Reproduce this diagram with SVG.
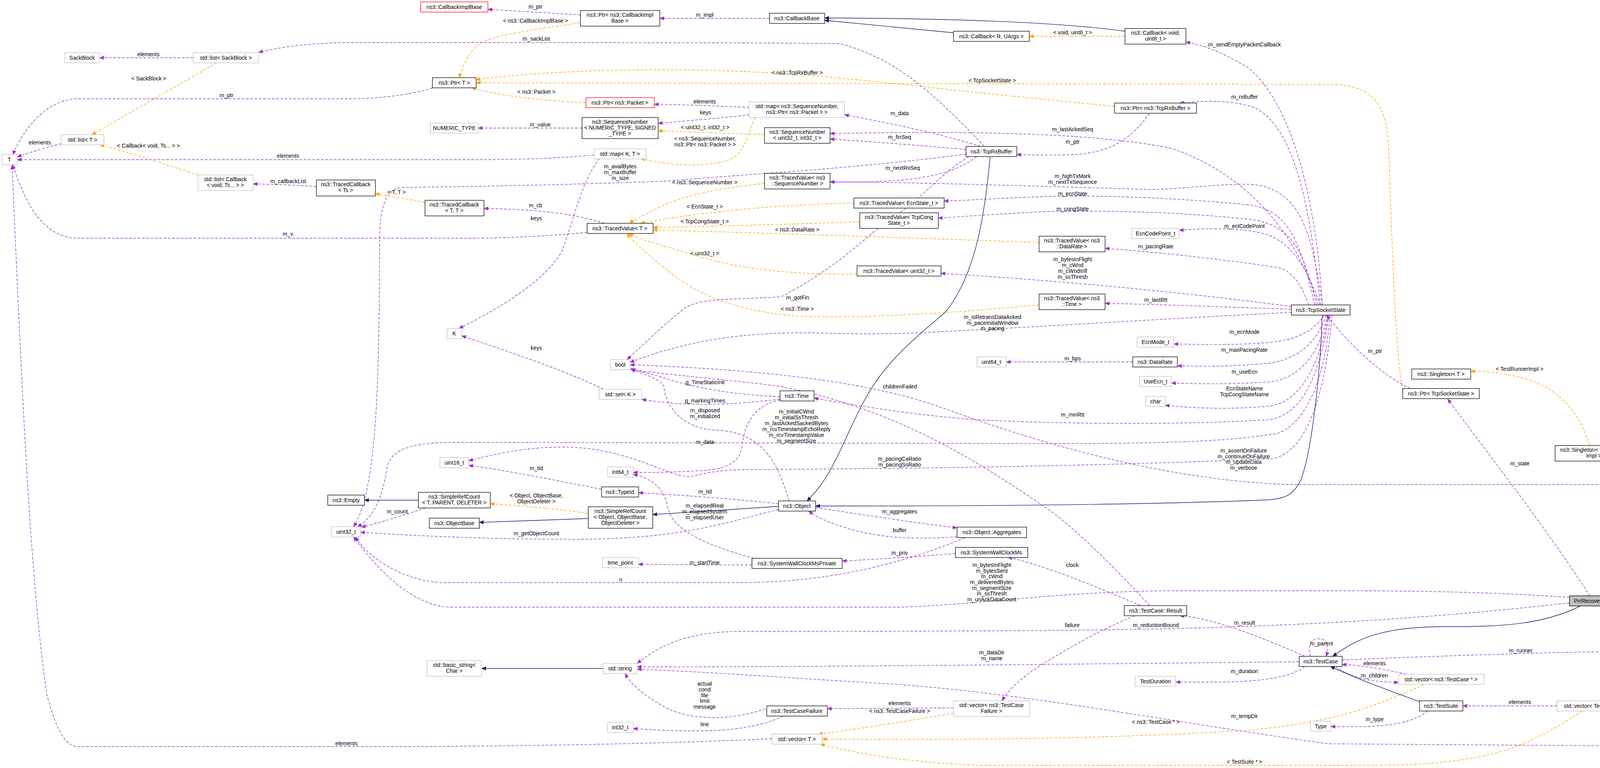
<svg xmlns="http://www.w3.org/2000/svg" width="4461" height="1967" viewBox="0 0 4461 1967">
<style>
text{font-family:"Liberation Sans",Arial,sans-serif;font-size:14px;fill:#000;text-anchor:middle}
.nb rect{fill:#fff;stroke:#000;stroke-width:1.3}
.ng rect{fill:#fff;stroke:#bfbfbf;stroke-width:1.3}
.nr rect{fill:#fff;stroke:#ff0000;stroke-width:1.3}
.nh rect{fill:#bfbfbf;stroke:#000;stroke-width:1.3}
.p{fill:none;stroke:#9a32cd;stroke-width:1.4;stroke-dasharray:7,4;marker-end:url(#ap)}
.o{fill:none;stroke:orange;stroke-width:1.4;stroke-dasharray:7,4;marker-end:url(#ao)}
.b{fill:none;stroke:midnightblue;stroke-width:1.4;marker-end:url(#ab)}
</style>
<defs>
<marker id="ap" viewBox="0 0 12 10" refX="11" refY="5" markerWidth="12" markerHeight="10" markerUnits="userSpaceOnUse" orient="auto"><path d="M0,0L12,5L0,10z" fill="#9a32cd"/></marker>
<marker id="ao" viewBox="0 0 12 10" refX="11" refY="5" markerWidth="12" markerHeight="10" markerUnits="userSpaceOnUse" orient="auto"><path d="M0,0L12,5L0,10z" fill="orange"/></marker>
<marker id="ab" viewBox="0 0 12 10" refX="11" refY="5" markerWidth="12" markerHeight="10" markerUnits="userSpaceOnUse" orient="auto"><path d="M0,0L12,5L0,10z" fill="midnightblue"/></marker>
</defs>
<rect width="4461" height="1967" fill="#fff"/>
<g id="edges">
<path class="p" d="M1486,38 L1249,24"/><text x="1371" y="22">m_ptr</text>
<path class="o" d="M1484,58 C1380,75 1280,85 1230,110 C1200,130 1185,170 1175,199"/><text x="1371" y="58">&lt; ns3::CallbackImplBase &gt;</text>
<path class="p" d="M1970,47 L1689,47"/><text x="1804" y="43">m_impl</text>
<path class="b" d="M2441,84 L2111,52"/>
<path class="b" d="M2880,80 C2700,55 2400,47 2111,46"/>
<path class="o" d="M2880,93 L2635,93"/><text x="2746" y="88">&lt; void, uint8_t &gt;</text>
<path class="p" d="M3385,781 C3370,500 3300,250 3190,170 C3120,130 3080,115 3036,108"/><text x="3186" y="119">m_sendEmptyPacketCallback</text>
<path class="p" d="M495,148 L255,148"/><text x="380" y="144">elements</text>
<path class="o" d="M555,161 L235,345"/><text x="381" y="206">&lt; SackBlock &gt;</text>
<path class="p" d="M2520,375 C2400,250 2300,150 2150,112 C2100,109 1200,109 900,109 C800,109 720,120 662,134"/><text x="1373" y="104">m_sackList</text>
<path class="p" d="M1107,225 C1050,245 950,253 900,253 L200,253 C120,253 60,330 33,396"/><text x="580" y="249">m_ptr</text>
<path class="p" d="M157,368 C110,380 70,392 44,402"/><text x="102" y="370">elements</text>
<path class="p" d="M1521,397 C1450,404 1350,409 1200,409 L44,409"/><text x="737" y="404">elements</text>
<path class="o" d="M507,448 C420,420 330,390 256,371"/><text x="380" y="378">&lt; Callback&lt; void, Ts... &gt; &gt;</text>
<path class="p" d="M810,478 C760,474 700,472 648,471"/><text x="738" y="469">m_callbackList</text>
<path class="o" d="M1088,518 C1040,510 1000,503 961,496"/><text x="1015" y="497">&lt; T, T &gt;</text>
<path class="p" d="M1503,595 C1400,605 1300,610 1200,610 L200,610 C100,610 60,500 32,422"/><text x="737" y="604">m_v</text>
<path class="o" d="M1500,263 C1400,258 1300,250 1208,225"/><text x="1373" y="240">&lt; ns3::Packet &gt;</text>
<path class="o" d="M2853,272 C2500,240 2200,200 2000,188 C1700,170 1400,180 1219,204"/><text x="2041" y="191">&lt; ns3::TcpRxBuffer &gt;</text>
<path class="o" d="M3591,1000 C3570,900 3560,500 3555,380 C3550,270 3520,216 3400,216 L1219,212"/><text x="2540" y="211">&lt; TcpSocketState &gt;</text>
<path class="p" d="M1918,275 C1850,272 1750,268 1675,267"/><text x="1804" y="265">elements</text>
<path class="p" d="M1918,294 C1850,302 1750,310 1685,316"/><text x="1806" y="293">keys</text>
<path class="p" d="M1490,328 L1224,328"/><text x="1383" y="324">m_value</text>
<path class="o" d="M1957,344 C1870,342 1770,338 1685,335"/><text x="1805" y="331">&lt; uint32_t, int32_t &gt;</text>
<path class="o" d="M1934,301 C1910,340 1915,400 1850,415 C1770,430 1700,420 1640,406"/><text x="1805" y="360">&lt; ns3::SequenceNumber,</text><text x="1805" y="375">ns3::Ptr&lt; ns3::Packet &gt; &gt;</text>
<path class="p" d="M2510,375 C2400,340 2250,310 2162,294"/><text x="2303" y="295">m_data</text>
<path class="p" d="M2473,383 C2350,372 2220,362 2125,356"/><text x="2303" y="356">m_finSeq</text>
<path class="p" d="M3375,781 C3320,600 3200,450 3000,380 C2800,340 2500,335 2125,342"/><text x="2746" y="336">m_lastAckedSeq</text>
<path class="p" d="M2500,401 C2450,440 2380,455 2300,462 C2240,466 2180,466 2125,466"/><text x="2311" y="435">m_nextRxSeq</text>
<path class="p" d="M3385,781 C3360,600 3330,480 3200,472 C3100,470 3000,490 2900,484 C2600,475 2300,466 2125,466"/><text x="2746" y="456">m_highTxMark</text><text x="2746" y="471">m_nextTxSequence</text>
<path class="o" d="M1957,470 C1850,480 1750,500 1690,530 C1640,555 1620,565 1612,572"/><text x="1804" y="472">&lt; ns3::SequenceNumber &gt;</text>
<path class="p" d="M1547,572 C1450,540 1320,535 1239,534"/><text x="1371" y="531">m_cb</text>
<path class="p" d="M1535,406 C1490,460 1470,560 1440,640 C1400,720 1260,800 1175,841"/><text x="1373" y="564">keys</text>
<path class="p" d="M2473,395 C2200,430 2000,440 1700,464 C1400,475 1200,478 1030,480 C990,485 975,520 972,600 C970,900 972,1250 905,1349"/><text x="1588" y="431">m_availBytes</text><text x="1588" y="446">m_maxBuffer</text><text x="1588" y="461">m_size</text>
<path class="o" d="M2186,520 C1950,525 1750,550 1640,572"/><text x="1804" y="534">&lt; EcnState_t &gt;</text>
<path class="o" d="M2201,568 C2000,575 1800,580 1672,583"/><text x="1804" y="572">&lt; TcpCongState_t &gt;</text>
<path class="o" d="M2660,621 C2300,608 1900,595 1672,589"/><text x="2041" y="593">&lt; ns3::DataRate &gt;</text>
<path class="o" d="M2194,702 C2050,705 1900,690 1800,660 C1700,630 1640,615 1610,598"/><text x="1804" y="654">&lt; uint32_t &gt;</text>
<path class="o" d="M2660,781 C2400,805 2200,815 2050,810 C1900,800 1800,760 1730,710 C1670,660 1620,620 1605,598"/><text x="2041" y="796">&lt; ns3::Time &gt;</text>
<path class="p" d="M3365,781 C3330,620 3300,540 3200,525 C3000,505 2800,500 2700,503 C2600,505 2500,512 2417,515"/><text x="2746" y="501">m_ecnState</text>
<path class="p" d="M3370,781 C3340,650 3310,575 3200,562 C3000,540 2800,540 2700,541 C2600,545 2500,552 2402,559"/><text x="2746" y="540">m_congState</text>
<path class="p" d="M3380,781 C3350,700 3310,610 3220,595 C3150,582 3080,585 3019,590"/><text x="3186" y="584">m_ectCodePoint</text>
<path class="p" d="M3350,781 C3330,720 3300,690 3270,685 C3100,660 2950,645 2829,636"/><text x="2959" y="636">m_pacingRate</text>
<path class="p" d="M3306,785 C3000,745 2700,718 2409,700"/><text x="2746" y="669">m_bytesInFlight</text><text x="2746" y="684">m_cWnd</text><text x="2746" y="699">m_cWndInfl</text><text x="2746" y="714">m_ssThresh</text>
<path class="p" d="M3306,792 C3100,785 2950,779 2829,777"/><text x="2959" y="773">m_lastRtt</text>
<path class="p" d="M3306,800 C3000,815 2700,835 2400,850 C2300,856 2200,856 2100,853 C1900,848 1750,875 1613,928"/><text x="2541" y="817">m_isRetransDataAcked</text><text x="2541" y="832">m_paceInitialWindow</text><text x="2541" y="846">m_pacing</text>
<path class="p" d="M2480,401 C2400,450 2350,520 2280,560 C2200,620 2150,680 2000,760 C1850,770 1780,760 1740,800 C1690,840 1640,890 1605,921"/><text x="2042" y="767">m_gotFin</text>
<path class="p" d="M3390,807 C3360,850 3320,870 3250,877 C3150,885 3080,882 3005,881"/><text x="3186" y="855">m_ecnMode</text>
<path class="p" d="M3395,807 C3370,880 3320,920 3250,930 C3150,940 3080,938 3014,937"/><text x="3186" y="901">m_maxPacingRate</text>
<path class="p" d="M2900,927 L2576,927"/><text x="2746" y="923">m_bps</text>
<path class="p" d="M3398,807 C3380,900 3330,970 3250,978 C3150,985 3060,983 2999,981"/><text x="3186" y="957">m_useEcn</text>
<path class="p" d="M3400,807 C3380,930 3330,1030 3250,1040 C3150,1050 3050,1045 2983,1038"/><text x="3186" y="1000">EcnStateName</text><text x="3186" y="1015">TcpCongStateName</text>
<path class="p" d="M3402,807 C3380,950 3340,1060 3250,1075 C3000,1090 2700,1085 2500,1075 C2300,1060 2150,1030 2084,1020"/><text x="2746" y="1067">m_minRtt</text>
<path class="p" d="M1997,1016 C1850,1010 1750,985 1690,965 C1650,952 1630,950 1615,944"/><text x="1805" y="984">g_TimeStaticInit</text>
<path class="p" d="M1997,1022 C1850,1040 1750,1040 1643,1023"/><text x="1805" y="1031">g_markingTimes</text>
<path class="p" d="M1545,997 C1450,950 1300,900 1182,860"/><text x="1373" y="896">keys</text>
<path class="p" d="M2020,1283 C1990,1180 1950,1110 1840,1102 C1730,1100 1700,1020 1700,990 C1690,970 1640,955 1615,946"/><text x="1805" y="1056">m_disposed</text><text x="1805" y="1071">m_initialized</text>
<path class="p" d="M3405,807 C3390,1000 3330,1090 3270,1110 C3150,1130 3000,1136 2700,1136 L1200,1133 C1050,1130 1000,1150 990,1200 C980,1280 950,1330 915,1349"/><text x="2039" y="1059">m_initialCWnd</text><text x="2039" y="1074">m_initialSsThresh</text><text x="2039" y="1089">m_lastAckedSackedBytes</text><text x="2039" y="1104">m_rcvTimestampEchoReply</text><text x="2039" y="1119">m_rcvTimestampValue</text><text x="2039" y="1134">m_segmentSize</text>
<path class="p" d="M1540,1253 C1420,1230 1300,1205 1200,1192"/><text x="1373" y="1204">m_tid</text>
<path class="p" d="M3410,807 C3390,1050 3330,1170 3250,1175 C2800,1195 2300,1200 1900,1203 C1800,1205 1780,1223 1760,1221 C1700,1215 1600,1145 1440,1145 C1340,1145 1260,1165 1200,1180"/><text x="2303" y="1180">m_pacingCaRatio</text><text x="2303" y="1195">m_pacingSsRatio</text>
<path class="p" d="M1997,1024 C1920,1040 1905,1100 1900,1140 C1895,1180 1870,1200 1800,1205 C1720,1210 1660,1210 1621,1210"/><text x="1805" y="1137">m_data</text>
<path class="p" d="M1930,1430 C1820,1400 1720,1360 1710,1300 C1700,1250 1670,1225 1621,1215"/><text x="1804" y="1300">m_elapsedReal</text><text x="1804" y="1315">m_elapsedSystem</text><text x="1804" y="1330">m_elapsedUser</text>
<path class="p" d="M1993,1290 C1850,1275 1740,1268 1635,1262"/><text x="1805" y="1264">m_tid</text>
<path class="b" d="M1993,1297 L1671,1318"/>
<path class="b" d="M1506,1328 L1227,1338"/>
<path class="b" d="M1071,1281 L933,1281"/>
<path class="o" d="M1506,1315 C1420,1302 1330,1295 1255,1290"/><text x="1373" y="1274">&lt; Object, ObjectBase,</text><text x="1373" y="1289">ObjectDeleter &gt;</text>
<path class="p" d="M1090,1301 C1030,1320 970,1340 925,1350"/><text x="1017" y="1315">m_count</text>
<path class="p" d="M1993,1305 C1850,1340 1750,1378 1500,1381 C1300,1382 1100,1375 923,1363"/><text x="1373" y="1371">m_getObjectCount</text>
<path class="b" d="M2535,401 C2520,550 2500,700 2420,800 C2300,900 2250,950 2200,1050 C2150,1150 2130,1220 2066,1283"/>
<path class="b" d="M3385,807 C3380,950 3360,1150 3330,1230 C3310,1270 3290,1275 3250,1280 C2900,1295 2400,1296 2088,1296"/>
<path class="b" d="M4365,1652 C4350,1450 4330,1300 4300,1240 C4270,1200 4230,1180 4180,1170"/>
<path class="o" d="M4070,1141 C4040,1050 3990,1000 3920,975 C3860,955 3810,951 3765,951"/><text x="3890" y="950">&lt; TestRunnerImpl &gt;</text>
<path class="p" d="M3610,995 C3540,960 3470,900 3396,808"/><text x="3520" y="904">m_ptr</text>
<path class="p" d="M4070,1526 C3950,1340 3800,1150 3706,1022"/><text x="3891" y="1192">m_state</text>
<path class="b" d="M4048,1551 C3950,1600 3850,1605 3700,1605 C3550,1605 3480,1630 3412,1681"/>
<path class="p" d="M4018,1530 C3800,1515 3600,1513 3400,1513 L3000,1513 C2700,1515 2500,1550 2300,1555 L1150,1555 C1050,1550 960,1450 905,1375"/><text x="2539" y="1452">m_bytesInFlight</text><text x="2539" y="1467">m_bytesSent</text><text x="2539" y="1481">m_cWnd</text><text x="2539" y="1496">m_deliveredBytes</text><text x="2539" y="1511">m_segmentSize</text><text x="2539" y="1525">m_ssThresh</text><text x="2539" y="1540">m_unAckDataCount</text>
<path class="p" d="M2470,1377 C2300,1450 2100,1492 1900,1492 L1130,1492 C1050,1490 950,1440 910,1375"/><text x="1589" y="1489">n</text>
<path class="p" d="M4018,1544 C3700,1580 3400,1600 3000,1610 C2700,1617 2200,1617 1900,1617 C1750,1617 1680,1660 1631,1699"/><text x="2959" y="1606">m_reductionBound</text>
<path class="p" d="M3340,1681 C3250,1640 3100,1580 3020,1577"/><text x="3186" y="1600">m_result</text>
<path class="p" d="M2920,1551 C2800,1500 2680,1450 2580,1427"/><text x="2745" y="1452">clock</text>
<path class="p" d="M2943,1551 C2850,1450 2750,1350 2677,1300 C2500,1180 2300,1050 2000,990 C1850,970 1700,960 1615,946"/><text x="2304" y="995">childrenFailed</text>
<path class="p" d="M2905,1577 C2800,1620 2700,1680 2640,1720 C2600,1750 2580,1770 2565,1795"/><text x="2745" y="1606">failure</text>
<path class="p" d="M3326,1695 C2800,1700 2200,1708 1631,1708"/><text x="2539" y="1676">m_dataDir</text><text x="2539" y="1691">m_name</text>
<path class="p" d="M4360,1678 C4320,1800 4250,1910 4100,1910 L3400,1905 C3000,1850 2600,1770 2250,1750 C2000,1735 1800,1720 1631,1714"/><text x="3186" y="1839">m_tempDir</text>
<path class="p" d="M1980,1808 C1900,1840 1800,1850 1720,1820 C1660,1790 1620,1760 1600,1725"/><text x="1804" y="1756">actual</text><text x="1804" y="1771">cond</text><text x="1804" y="1786">file</text><text x="1804" y="1800">limit</text><text x="1804" y="1815">message</text>
<path class="p" d="M2005,1834 C1950,1860 1880,1872 1780,1872 C1700,1872 1660,1868 1621,1866"/><text x="1804" y="1860">line</text>
<path class="p" d="M2441,1813 L2118,1815"/><text x="2303" y="1806">elements</text>
<path class="o" d="M2441,1827 C2300,1850 2180,1870 2095,1880"/><text x="2303" y="1826">&lt; ns3::TestCaseFailure &gt;</text>
<path class="o" d="M3645,1753 C3500,1820 3400,1850 3200,1870 C2800,1895 2400,1895 2105,1893"/><text x="2959" y="1854">&lt; ns3::TestCase * &gt;</text>
<path class="o" d="M4050,1821 C3900,1920 3800,1960 3500,1960 L2500,1960 C2300,1950 2200,1930 2100,1906"/><text x="3186" y="1956">&lt; TestSuite * &gt;</text>
<path class="p" d="M1976,1892 C1700,1905 1300,1912 1000,1912 L200,1912 C160,1912 140,1850 120,1780 C80,1500 60,1100 31,423"/><text x="887" y="1909">elements</text>
<path class="p" d="M3355,1681 C3345,1650 3360,1636 3375,1636 C3395,1636 3405,1650 3395,1681"/><text x="3383" y="1653">m_parent</text>
<path class="p" d="M3436,1690 C3700,1680 4000,1668 4292,1667"/><text x="3893" y="1671">m_runner</text>
<path class="p" d="M3600,1727 C3550,1715 3480,1703 3436,1702"/><text x="3519" y="1704">elements</text>
<path class="p" d="M3420,1707 C3450,1730 3490,1746 3580,1748"/><text x="3519" y="1735">m_children</text>
<path class="b" d="M3634,1797 C3560,1770 3490,1745 3406,1707"/>
<path class="p" d="M3655,1821 C3620,1850 3560,1860 3480,1861 L3407,1861"/><text x="3519" y="1847">m_type</text>
<path class="p" d="M3986,1808 L3745,1808"/><text x="3891" y="1803">elements</text>
<path class="p" d="M4340,1678 C4280,1720 4180,1760 4112,1795"/><text x="4237" y="1712">m_suites</text>
<path class="p" d="M3340,1707 C3300,1740 3200,1747 3100,1747 L3010,1747"/><text x="3186" y="1724">m_duration</text>
<path class="p" d="M4350,1652 C4330,1450 4250,1250 4100,1241 L3300,1241 C3000,1230 2700,1150 2400,1040 C2200,970 1900,945 1613,934"/><text x="3184" y="1159">m_assertOnFailure</text><text x="3184" y="1174">m_continueOnFailure</text><text x="3184" y="1188">m_updateData</text><text x="3184" y="1203">m_verbose</text>
<path class="p" d="M2088,1300 C2220,1320 2350,1340 2450,1352"/><text x="2303" y="1315">m_aggregates</text>
<path class="p" d="M2450,1375 C2350,1382 2250,1380 2160,1350 C2110,1335 2085,1320 2070,1309"/><text x="2303" y="1363">buffer</text>
<path class="p" d="M2446,1418 C2350,1425 2250,1432 2156,1437"/><text x="2303" y="1421">m_priv</text>
<path class="p" d="M1925,1447 C1820,1447 1720,1446 1634,1445"/><text x="1804" y="1446">m_startTime</text>
<path class="b" d="M1544,1712 L1233,1712"/>
<path class="p" d="M2943,290 C2900,350 2850,390 2750,396 C2700,398 2650,397 2603,396"/><text x="2746" y="368">m_ptr</text>
<path class="p" d="M3380,781 C3360,600 3330,330 3210,275 C3150,255 3080,258 3020,264"/><text x="3186" y="253">m_rxBuffer</text>
</g>
<g id="n1" class="nr"><rect x="1077" y="5" width="172" height="26"/><text x="1163" y="23">ns3::CallbackImplBase</text></g>
<g id="n2" class="ng"><rect x="166" y="135" width="89" height="26"/><text x="210" y="153">SackBlock</text></g>
<g id="n3" class="ng"><rect x="495" y="135" width="167" height="26"/><text x="578" y="153">std::list&lt; SackBlock &gt;</text></g>
<g id="n4" class="ng"><rect x="157" y="345" width="109" height="26"/><text x="211" y="363">std::list&lt; T &gt;</text></g>
<g id="n5" class="ng"><rect x="5" y="396" width="39" height="26"/><text x="24" y="414">T</text></g>
<g id="n6" class="ng"><rect x="507" y="448" width="141" height="40"/><text x="577" y="464">std::list&lt; Callback</text><text x="577" y="479">&lt; void, Ts... &gt; &gt;</text></g>
<g id="n7" class="nb"><rect x="810" y="461" width="151" height="41"/><text x="885" y="477">ns3::TracedCallback</text><text x="885" y="492">&lt; Ts &gt;</text></g>
<g id="n8" class="nb"><rect x="1107" y="199" width="112" height="26"/><text x="1163" y="217">ns3::Ptr&lt; T &gt;</text></g>
<g id="n9" class="nb"><rect x="1486" y="27" width="203" height="40"/><text x="1587" y="43">ns3::Ptr&lt; ns3::CallbackImpl</text><text x="1587" y="58">Base &gt;</text></g>
<g id="n10" class="nb"><rect x="1970" y="34" width="141" height="26"/><text x="2040" y="52">ns3::CallbackBase</text></g>
<g id="n11" class="nr"><rect x="1500" y="250" width="175" height="26"/><text x="1587" y="268">ns3::Ptr&lt; ns3::Packet &gt;</text></g>
<g id="n12" class="ng"><rect x="1102" y="315" width="122" height="26"/><text x="1163" y="333">NUMERIC_TYPE</text></g>
<g id="n13" class="nb"><rect x="1490" y="301" width="195" height="54"/><text x="1587" y="317">ns3::SequenceNumber</text><text x="1587" y="332">&lt; NUMERIC_TYPE, SIGNED</text><text x="1587" y="347">_TYPE &gt;</text></g>
<g id="n14" class="ng"><rect x="1918" y="261" width="244" height="40"/><text x="2040" y="277">std::map&lt; ns3::SequenceNumber,</text><text x="2040" y="292">ns3::Ptr&lt; ns3::Packet &gt; &gt;</text></g>
<g id="n15" class="nb"><rect x="1957" y="327" width="168" height="40"/><text x="2041" y="343">ns3::SequenceNumber</text><text x="2041" y="358">&lt; uint32_t, int32_t &gt;</text></g>
<g id="n16" class="ng"><rect x="1521" y="381" width="133" height="26"/><text x="1587" y="399">std::map&lt; K, T &gt;</text></g>
<g id="n17" class="nb"><rect x="1088" y="513" width="151" height="40"/><text x="1163" y="529">ns3::TracedCallback</text><text x="1163" y="544">&lt; T, T &gt;</text></g>
<g id="n18" class="nb"><rect x="1957" y="444" width="168" height="40"/><text x="2041" y="460">ns3::TracedValue&lt; ns3</text><text x="2041" y="475">::SequenceNumber &gt;</text></g>
<g id="n19" class="nb"><rect x="1503" y="572" width="169" height="26"/><text x="1587" y="590">ns3::TracedValue&lt; T &gt;</text></g>
<g id="n20" class="nb"><rect x="2441" y="80" width="194" height="26"/><text x="2538" y="98">ns3::Callback&lt; R, UArgs &gt;</text></g>
<g id="n21" class="nb"><rect x="2880" y="73" width="156" height="40"/><text x="2958" y="89">ns3::Callback&lt; void,</text><text x="2958" y="104">uint8_t &gt;</text></g>
<g id="n22" class="nb"><rect x="2853" y="264" width="210" height="26"/><text x="2958" y="282">ns3::Ptr&lt; ns3::TcpRxBuffer &gt;</text></g>
<g id="n23" class="nb"><rect x="2473" y="375" width="130" height="26"/><text x="2538" y="393">ns3::TcpRxBuffer</text></g>
<g id="n24" class="nb"><rect x="2186" y="507" width="231" height="26"/><text x="2301" y="525">ns3::TracedValue&lt; EcnState_t &gt;</text></g>
<g id="n25" class="nb"><rect x="2201" y="545" width="201" height="40"/><text x="2301" y="561">ns3::TracedValue&lt; TcpCong</text><text x="2301" y="576">State_t &gt;</text></g>
<g id="n26" class="ng"><rect x="2897" y="585" width="122" height="26"/><text x="2958" y="603">EcnCodePoint_t</text></g>
<g id="n27" class="nb"><rect x="2660" y="605" width="169" height="40"/><text x="2744" y="621">ns3::TracedValue&lt; ns3</text><text x="2744" y="636">::DataRate &gt;</text></g>
<g id="n28" class="nb"><rect x="2194" y="681" width="215" height="26"/><text x="2301" y="699">ns3::TracedValue&lt; uint32_t &gt;</text></g>
<g id="n29" class="nb"><rect x="2660" y="753" width="169" height="40"/><text x="2744" y="769">ns3::TracedValue&lt; ns3</text><text x="2744" y="784">::Time &gt;</text></g>
<g id="n30" class="nb"><rect x="3306" y="781" width="150" height="26"/><text x="3381" y="799">ns3::TcpSocketState</text></g>
<g id="n31" class="ng"><rect x="2911" y="863" width="94" height="26"/><text x="2958" y="881">EcnMode_t</text></g>
<g id="n32" class="nb"><rect x="2900" y="914" width="114" height="26"/><text x="2957" y="932">ns3::DataRate</text></g>
<g id="n33" class="ng"><rect x="2501" y="914" width="75" height="26"/><text x="2538" y="932">uint64_t</text></g>
<g id="n34" class="ng"><rect x="2917" y="964" width="82" height="26"/><text x="2958" y="982">UseEcn_t</text></g>
<g id="n35" class="ng"><rect x="2933" y="1015" width="50" height="26"/><text x="2958" y="1033">char</text></g>
<g id="n36" class="nb"><rect x="3614" y="945" width="151" height="26"/><text x="3689" y="963">ns3::Singleton&lt; T &gt;</text></g>
<g id="n37" class="nb"><rect x="3591" y="995" width="196" height="26"/><text x="3689" y="1013">ns3::Ptr&lt; TcpSocketState &gt;</text></g>
<g id="n38" class="nb"><rect x="3981" y="1141" width="199" height="40"/><text x="4080" y="1157">ns3::Singleton&lt; TestRunner</text><text x="4080" y="1172">Impl &gt;</text></g>
<g id="n39" class="nb"><rect x="839" y="1268" width="94" height="26"/><text x="886" y="1286">ns3::Empty</text></g>
<g id="n40" class="ng"><rect x="1144" y="841" width="38" height="26"/><text x="1163" y="859">K</text></g>
<g id="n41" class="ng"><rect x="1563" y="921" width="50" height="26"/><text x="1588" y="939">bool</text></g>
<g id="n42" class="ng"><rect x="1533" y="997" width="110" height="26"/><text x="1588" y="1015">std::set&lt; K &gt;</text></g>
<g id="n43" class="nb"><rect x="1997" y="1001" width="87" height="26"/><text x="2040" y="1019">ns3::Time</text></g>
<g id="n44" class="ng"><rect x="1126" y="1172" width="74" height="26"/><text x="1163" y="1190">uint16_t</text></g>
<g id="n45" class="ng"><rect x="1555" y="1196" width="66" height="26"/><text x="1588" y="1214">int64_t</text></g>
<g id="n46" class="nb"><rect x="1540" y="1247" width="95" height="26"/><text x="1587" y="1265">ns3::TypeId</text></g>
<g id="n47" class="nb"><rect x="1071" y="1261" width="184" height="40"/><text x="1163" y="1277">ns3::SimpleRefCount</text><text x="1163" y="1292">&lt; T, PARENT, DELETER &gt;</text></g>
<g id="n48" class="nb"><rect x="1993" y="1283" width="95" height="26"/><text x="2040" y="1301">ns3::Object</text></g>
<g id="n49" class="ng"><rect x="849" y="1349" width="74" height="26"/><text x="886" y="1367">uint32_t</text></g>
<g id="n50" class="nb"><rect x="1099" y="1327" width="128" height="26"/><text x="1163" y="1345">ns3::ObjectBase</text></g>
<g id="n51" class="nb"><rect x="1506" y="1298" width="165" height="55"/><text x="1588" y="1314">ns3::SimpleRefCount</text><text x="1588" y="1329">&lt; Object, ObjectBase,</text><text x="1588" y="1344">ObjectDeleter &gt;</text></g>
<g id="n52" class="ng"><rect x="1542" y="1428" width="92" height="26"/><text x="1588" y="1446">time_point</text></g>
<g id="n53" class="nb"><rect x="1925" y="1430" width="231" height="26"/><text x="2040" y="1448">ns3::SystemWallClockMsPrivate</text></g>
<g id="n54" class="ng"><rect x="1093" y="1692" width="140" height="40"/><text x="1163" y="1708">std::basic_string&lt;</text><text x="1163" y="1723">Char &gt;</text></g>
<g id="n55" class="ng"><rect x="1544" y="1699" width="87" height="26"/><text x="1587" y="1717">std::string</text></g>
<g id="n56" class="nb"><rect x="1963" y="1808" width="155" height="26"/><text x="2040" y="1826">ns3::TestCaseFailure</text></g>
<g id="n57" class="ng"><rect x="1555" y="1850" width="66" height="26"/><text x="1588" y="1868">int32_t</text></g>
<g id="n58" class="ng"><rect x="1976" y="1880" width="129" height="26"/><text x="2040" y="1898">std::vector&lt; T &gt;</text></g>
<g id="n59" class="nb"><rect x="2450" y="1350" width="178" height="27"/><text x="2539" y="1368">ns3::Object::Aggregates</text></g>
<g id="n60" class="nb"><rect x="2446" y="1402" width="185" height="26"/><text x="2538" y="1420">ns3::SystemWallClockMs</text></g>
<g id="n61" class="nb"><rect x="2878" y="1551" width="160" height="26"/><text x="2958" y="1569">ns3::TestCase::Result</text></g>
<g id="n62" class="ng"><rect x="2906" y="1732" width="104" height="26"/><text x="2958" y="1750">TestDuration</text></g>
<g id="n63" class="ng"><rect x="2441" y="1795" width="195" height="40"/><text x="2538" y="1811">std::vector&lt; ns3::TestCase</text><text x="2538" y="1826">Failure &gt;</text></g>
<g id="n64" class="nh"><rect x="4018" y="1526" width="126" height="26"/><text x="4081" y="1544">PrrRecoveryTest</text></g>
<g id="n65" class="nb"><rect x="3326" y="1681" width="110" height="26"/><text x="3381" y="1699">ns3::TestCase</text></g>
<g id="n66" class="nb"><rect x="4292" y="1652" width="153" height="26"/><text x="4368" y="1670">ns3::TestRunnerImpl</text></g>
<g id="n67" class="ng"><rect x="3580" y="1727" width="219" height="26"/><text x="3689" y="1745">std::vector&lt; ns3::TestCase * &gt;</text></g>
<g id="n68" class="nb"><rect x="3634" y="1795" width="111" height="26"/><text x="3689" y="1813">ns3::TestSuite</text></g>
<g id="n69" class="ng"><rect x="3986" y="1795" width="190" height="26"/><text x="4081" y="1813">std::vector&lt; TestSuite * &gt;</text></g>
<g id="n70" class="ng"><rect x="3355" y="1847" width="52" height="26"/><text x="3381" y="1865">Type</text></g>
</svg>
